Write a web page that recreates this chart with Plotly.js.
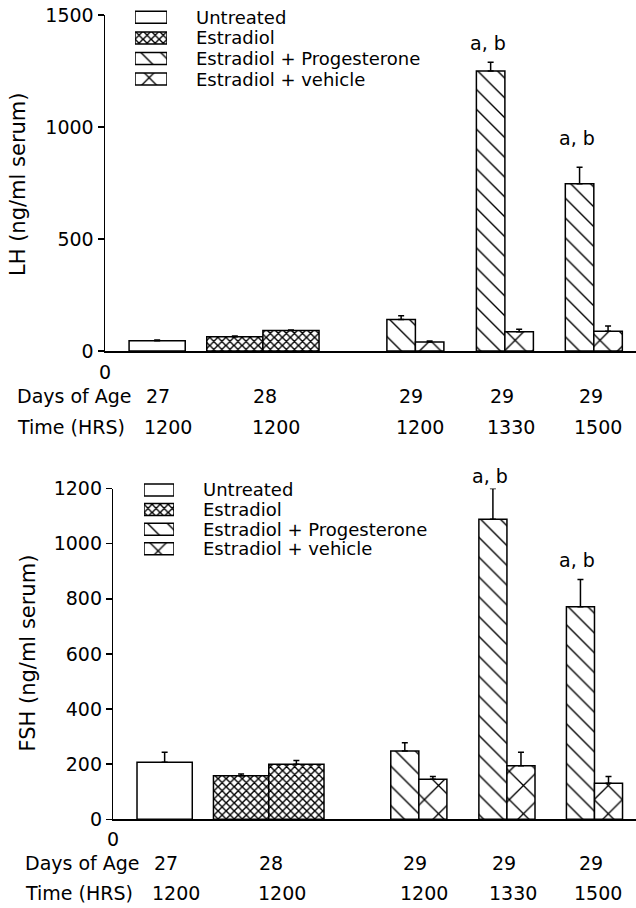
<!DOCTYPE html>
<html><head><meta charset="utf-8">
<script src="https://cdn.plot.ly/plotly-3.0.1.min.js"></script>
<style>html,body{margin:0;padding:0;background:#fff}#chart{width:636px;height:908px}</style>
</head><body><div id="chart"></div>
<script>
// ---------- data ----------
const dayLabels  = ['27', '28', '29', '29', '29'];
const timeLabels = ['1200', '1200', '1200', '1330', '1500'];
const seriesNames = ['Untreated', 'Estradiol', 'Estradiol + Progesterone', 'Estradiol + vehicle'];
const rowLabels = ['Days of Age', 'Time (HRS)'];
const sigLabel = 'a, b';

// LH (ng/ml serum)
const lhUntreated    = [46];
const lhUntreatedErr = [3];
const lhEstradiol    = [64, 91];
const lhEstradiolErr = [3, 3];
const lhEstProg      = [141, 1250, 747];
const lhEstProgErr   = [16, 39, 73];
const lhEstVeh       = [40, 86, 88];
const lhEstVehErr    = [5, 11, 24];

// FSH (ng/ml serum)
const fshUntreated    = [207];
const fshUntreatedErr = [36];
const fshEstradiol    = [158, 200];
const fshEstradiolErr = [6, 13];
const fshEstProg      = [248, 1088, 771];
const fshEstProgErr   = [30, 112, 99];
const fshEstVeh       = [145, 194, 131];
const fshEstVehErr    = [10, 49, 24];

// ---------- layout constants ----------
const W = 636, H = 908;
const FONT = {family: 'DejaVu Sans', size: 19, color: '#000'};
const LEGFONT = {family: 'DejaVu Sans', size: 18, color: '#000'};
const TITLEFONT = {family: 'DejaVu Sans', size: 21, color: '#000'};
const groupCenter = [1.83, 5.54, 10.89, 14.03, 17.15];
const WIDE = 1.97, NARROW = 1.0;
const XMAX = 18.63;
const dayShift = [1, 2, -4, -3, -3];
const timeShift = [11, 13, 5, 6, 4];

const patterns = [
  {shape: ''},
  {shape: 'x', size: 5.7, solidity: 0.43, fgcolor: '#000', bgcolor: '#fff'},
  {shape: '\\', size: 14, solidity: 0.1, fgcolor: '#000', bgcolor: '#fff'},
  {shape: 'x', size: 20, solidity: 0.13, fgcolor: '#000', bgcolor: '#fff'}
];

const panels = [
  {
    title: 'LH (ng/ml serum)', range: [0, 1500], dtick: 500,
    xd: [105 / W, 1], yd: [1 - 351 / H, 1 - 15 / H],
    titlePos: [18, 184], zeroY: 372, dayY: 396, timeY: 427, rowX: 15,
    legX: [135, 167], legRows: [17.3, 79.1], abShift: [19, 29],
    data: [[lhUntreated, lhUntreatedErr], [lhEstradiol, lhEstradiolErr],
           [lhEstProg, lhEstProgErr], [lhEstVeh, lhEstVehErr]]
  },
  {
    title: 'FSH (ng/ml serum)', range: [0, 1200], dtick: 200,
    xd: [113.3 / W, 1], yd: [1 - 819.3 / H, 1 - 488.5 / H],
    titlePos: [27.5, 653], zeroY: 839.3, dayY: 862.7, timeY: 893.3, rowX: 23,
    legX: [144, 174], legRows: [490, 548.7], abShift: [13, 19],
    data: [[fshUntreated, fshUntreatedErr], [fshEstradiol, fshEstradiolErr],
           [fshEstProg, fshEstProgErr], [fshEstVeh, fshEstVehErr]]
  }
];

// bar x positions per series (layout, not data)
function positions(s) {
  if (s === 0) return {x: [groupCenter[0]], w: WIDE};
  if (s === 1) return {x: [groupCenter[1] - WIDE / 2, groupCenter[1] + WIDE / 2], w: WIDE};
  if (s === 2) return {x: [2, 3, 4].map(g => groupCenter[g] - NARROW / 2), w: NARROW};
  return {x: [2, 3, 4].map(g => groupCenter[g] + NARROW / 2), w: NARROW};
}

const py = p => 1 - p / H;
const traces = [];
const annotations = [];
const layout = {
  width: W, height: H, margin: {l: 0, r: 0, t: 0, b: 0},
  paper_bgcolor: '#fff', plot_bgcolor: 'rgba(0,0,0,0)',
  barmode: 'overlay', showlegend: false, font: FONT,
  annotations: annotations
};

panels.forEach((p, pi) => {
  const xa = pi === 0 ? 'x' : 'x2', ya = pi === 0 ? 'y' : 'y2';
  const la = pi === 0 ? 'x3' : 'x4', lya = pi === 0 ? 'y3' : 'y4';
  const xk = pi === 0 ? 'xaxis' : 'xaxis2', yk = pi === 0 ? 'yaxis' : 'yaxis2';
  const lxk = pi === 0 ? 'xaxis3' : 'xaxis4', lyk = pi === 0 ? 'yaxis3' : 'yaxis4';

  layout[xk] = {domain: p.xd, range: [0, XMAX], anchor: ya, showline: true, linecolor: '#000',
    linewidth: 1.5, showgrid: false, zeroline: false, showticklabels: false, ticks: '', fixedrange: true};
  layout[yk] = {domain: p.yd, range: p.range, anchor: xa, showline: true, linecolor: '#000',
    linewidth: 1.5, showgrid: false, zeroline: false, ticks: 'outside', ticklen: 6, tickwidth: 1.5,
    tickcolor: '#000', dtick: p.dtick, tick0: 0, tickfont: FONT, fixedrange: true};

  // bars
  p.data.forEach(([vals, errs], s) => {
    const pos = positions(s);
    traces.push({
      type: 'bar', xaxis: xa, yaxis: ya, name: seriesNames[s],
      x: pos.x, y: vals, width: pos.x.map(() => pos.w),
      marker: {color: '#fff', line: {color: '#000', width: 1.5}, pattern: patterns[s]},
      error_y: {type: 'data', symmetric: false, array: errs, color: '#000', thickness: 1.5, width: 3},
      hoverinfo: 'skip', cliponaxis: false
    });
  });

  // significance labels above E+P at 1330 and 1500
  [1, 2].forEach((k, j) => {
    const [vals, errs] = p.data[2];
    annotations.push({xref: xa, yref: ya, x: positions(2).x[k], y: vals[k] + errs[k],
      text: sigLabel, showarrow: false, xanchor: 'center', yanchor: 'middle',
      xshift: -3, yshift: p.abShift[j], font: FONT});
  });

  // legend swatches (horizontal bars in a small subplot)
  const rs = (p.legRows[1] - p.legRows[0]) / 3;
  layout[lxk] = {domain: [p.legX[0] / W, p.legX[1] / W], range: [0, 1], anchor: lya, visible: false, fixedrange: true};
  layout[lyk] = {domain: [py(p.legRows[1] + rs / 2), py(p.legRows[0] - rs / 2)], range: [3.5, -0.5],
    anchor: la, visible: false, fixedrange: true};
  seriesNames.forEach((nm, s) => {
    traces.push({type: 'bar', orientation: 'h', xaxis: la, yaxis: lya, x: [1], y: [s], base: 0,
      width: 12 / rs, marker: {color: '#fff', line: {color: '#000', width: 1.5}, pattern: patterns[s]},
      hoverinfo: 'skip'});
    annotations.push({xref: la, yref: lya, x: 1, y: s, xshift: 27, xanchor: 'left', yanchor: 'middle',
      text: nm, showarrow: false, font: LEGFONT});
  });

  // y title
  annotations.push({xref: 'paper', yref: 'paper', x: p.titlePos[0] / W, y: py(p.titlePos[1]),
    xanchor: 'center', yanchor: 'middle', textangle: -90, text: p.title, showarrow: false, font: TITLEFONT});

  // "0" under origin
  annotations.push({xref: xa, yref: 'paper', x: 0, y: py(p.zeroY), xanchor: 'center', yanchor: 'middle',
    text: '0', showarrow: false, font: FONT});

  // row labels
  annotations.push({xref: 'paper', yref: 'paper', x: p.rowX / W, y: py(p.dayY), xanchor: 'left',
    yanchor: 'middle', text: rowLabels[0], showarrow: false, font: FONT});
  annotations.push({xref: 'paper', yref: 'paper', x: p.rowX / W, y: py(p.timeY), xanchor: 'left',
    yanchor: 'middle', text: rowLabels[1], showarrow: false, font: FONT});

  dayLabels.forEach((d, g) => {
    annotations.push({xref: xa, yref: 'paper', x: groupCenter[g], y: py(p.dayY), xshift: dayShift[g],
      xanchor: 'center', yanchor: 'middle', text: d, showarrow: false, font: FONT});
    annotations.push({xref: xa, yref: 'paper', x: groupCenter[g], y: py(p.timeY), xshift: timeShift[g],
      xanchor: 'center', yanchor: 'middle', text: timeLabels[g], showarrow: false, font: FONT});
  });
});

Plotly.newPlot('chart', traces, layout, {staticPlot: true, displayModeBar: false});
</script>
</body></html>
